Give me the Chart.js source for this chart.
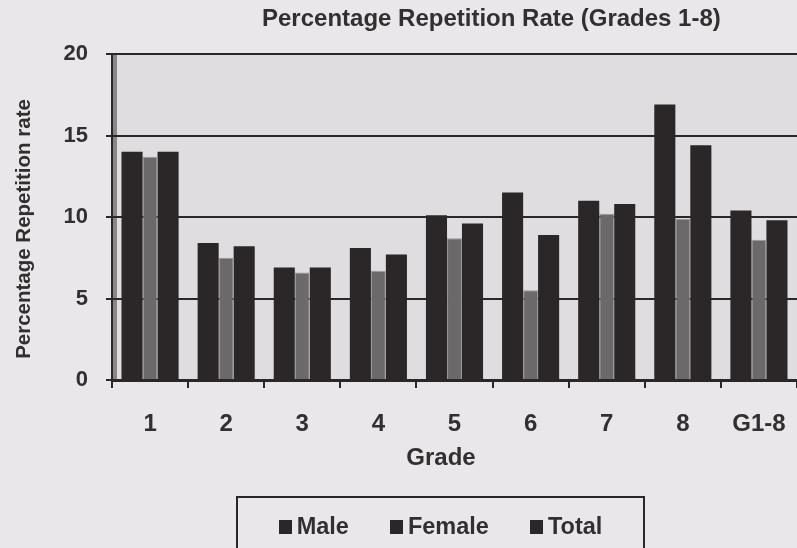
<!DOCTYPE html>
<html>
<head>
<meta charset="utf-8">
<script src="https://cdn.jsdelivr.net/npm/chart.js@4"></script>
<style>
  body { margin: 0; background: #e9e7e9; font-family: "Liberation Sans", Arial, sans-serif; }
  #wrap { position: relative; width: 797px; height: 548px; overflow: hidden; color: #332f31; font-weight: bold; }
  .lbl { position: absolute; white-space: nowrap; line-height: 24px; height: 24px; }
  #title { left: 262px; top: 6px; font-size: 24px; }
  #xTitle { left: 341px; width: 200px; top: 445px; font-size: 24px; text-align: center; }
  #yTitle { left: -127px; top: 217px; width: 300px; font-size: 20.5px; text-align: center; transform: rotate(-90deg); }
  #legend {
    position: absolute; left: 236px; top: 496px; width: 409px; height: 70px;
    border: 2px solid #2b2729; box-sizing: border-box;
    display: flex; justify-content: center; gap: 41px; padding-top: 15px;
    font-size: 23.5px;
  }
  #legend span::before {
    content: ""; display: inline-block; width: 13px; height: 14px;
    background: #2b2729; margin-right: 5px; vertical-align: 0px;
  }
</style>
</head>
<body>
<div id="wrap">
  <canvas id="repChart" width="797" height="548"></canvas>
  <div class="lbl" id="title">Percentage Repetition Rate (Grades 1-8)</div>
  <div class="lbl" id="xTitle">Grade</div>
  <div class="lbl" id="yTitle">Percentage Repetition rate</div>
  <div id="legend"></div>
</div>
<script>
const grades = ['1', '2', '3', '4', '5', '6', '7', '8', 'G1-8'];
const male   = [14.0, 8.4, 6.9, 8.1, 10.1, 11.5, 11.0, 16.9, 10.4];
const female = [13.7, 7.5, 6.6, 6.7, 8.7, 5.5, 10.2, 9.9, 8.6];
const total  = [14.0, 8.2, 6.9, 7.7, 9.6, 8.9, 10.8, 14.4, 9.8];
const yTicks = [0, 5, 10, 15, 20];
const seriesNames = ['Male', 'Female', 'Total'];

const ink = '#2b2729';
const textCol = '#332f31';
const boldFont = size => ({ family: 'Liberation Sans', size: size, weight: 'bold' });

// light plot wall + left 3D strip
const wallPlugin = {
    id: 'wall',
    beforeDraw(chart) {
        const { ctx, chartArea: a } = chart;
        ctx.save();
        ctx.fillStyle = '#dfdddf';
        ctx.fillRect(a.left, a.top, a.right - a.left, a.bottom - a.top);
        ctx.fillStyle = '#8a8688';
        ctx.fillRect(a.left, a.top, 5, a.bottom - a.top);
        ctx.restore();
    }
};

const ctx = document.getElementById('repChart').getContext('2d');
new Chart(ctx, {
    type: 'bar',
    data: {
        labels: grades,
        datasets: [
            { label: seriesNames[0], data: male, backgroundColor: ink, barPercentage: 1.17 },
            { label: seriesNames[1], data: female, backgroundColor: '#6c696b', borderColor: '#9a9698', borderWidth: 1, barPercentage: 0.83 },
            { label: seriesNames[2], data: total, backgroundColor: ink, barPercentage: 1.17 }
        ]
    },
    options: {
        responsive: false,
        animation: false,
        categoryPercentage: 0.71,
        layout: { padding: { left: 4, right: 0, top: 54, bottom: 76 } },
        plugins: {
            legend: { display: false },
            tooltip: { enabled: false }
        },
        scales: {
            x: {
                afterFit(axis) { axis.height = 92; axis.paddingRight = 0; axis.paddingLeft = 0; },
                grid: { drawOnChartArea: false, drawTicks: true, tickLength: 8, color: ink, lineWidth: 2 },
                border: { color: ink, width: 3 },
                ticks: { color: textCol, font: boldFont(24), padding: 22 }
            },
            y: {
                min: 0, max: 20,
                afterBuildTicks(axis) { axis.ticks = yTicks.map(v => ({ value: v })); },
                afterFit(axis) { axis.width = 108; axis.paddingTop = 0; },
                grid: { color: ink, lineWidth: 2, tickLength: 6 },
                border: { color: ink, width: 2 },
                ticks: { color: textCol, font: boldFont(22), padding: 18 }
            }
        }
    },
    plugins: [wallPlugin]
});

document.getElementById('legend').innerHTML =
    seriesNames.map(n => `<span>${n}</span>`).join('');
</script>
</body>
</html>
